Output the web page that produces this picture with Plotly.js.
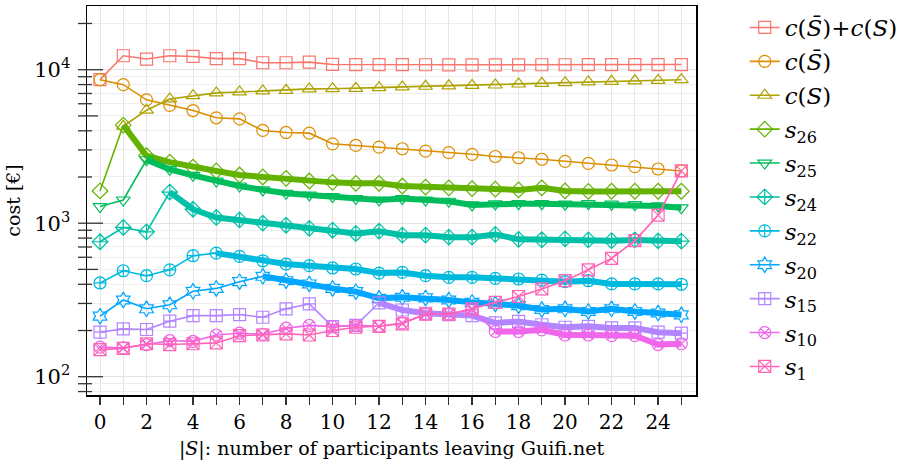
<!DOCTYPE html>
<html>
<head>
<meta charset="utf-8">
<script src="https://cdn.plot.ly/plotly-3.0.1.min.js"></script>
<style>html,body{margin:0;padding:0;background:#fff;}#chart{width:919px;height:465px;}</style>
</head>
<body>
<div id="chart"></div>
<script>
// ---- data ----
const leaving = [0,1,2,3,4,5,6,7,8,9,10,11,12,13,14,15,16,17,18,19,20,21,22,23,24,25];
const xTickText = ['0','','2','','4','','6','','8','','10','','12','','14','','16','','18','','20','','22','','24',''];

const cTotal = [8610,12330,11730,12330,12200,11800,11800,11100,11100,11200,10820,10790,10780,10780,10770,10760,10760,10760,10760,10770,10770,10780,10790,10790,10790,10800];
const cSbar  = [8610,7990,6360,5860,5420,4860,4785,4020,3900,3860,3290,3210,3130,3055,2950,2880,2810,2720,2670,2610,2530,2455,2395,2335,2255,2190];
const cS     = [null,4280,5450,6450,6780,7060,7160,7270,7340,7500,7520,7560,7640,7730,7800,7850,7900,7950,8070,8150,8230,8320,8400,8460,8520,8610];
const s26 = [1622,4350,2750,2500,2320,2190,2060,2000,1960,1883,1845,1820,1820,1747,1720,1700,1680,1665,1648,1700,1622,1610,1615,1615,1615,1615];
const s25 = [1283,1416,2590,2245,2050,1883,1747,1648,1565,1527,1490,1446,1416,1446,1416,1390,1315,1335,1340,1340,1330,1340,1330,1320,1295,1260];
const s24 = [757,938,879,1596,1233,1090,1050,1000,970,925,900,857,887,836,836,811,811,845,785,780,790,778,770,778,767,764];
const s22 = [408,490,455,497,614,638,608,569,542,529,511,503,473,478,455,444,444,437,433,426,416,422,402,402,402,400];
const s20 = [248,316,277,294,360,376,416,451,422,402,376,358,324,329,326,316,305,298,290,274,277,266,277,266,260,253];
const s15 = [195,205,203,230,250,250,254,244,277,298,212,216,303,272,259,254,250,224,229,218,210,213,208,208,195,192];
const s10 = [156,154,162,172,170,187,192,189,207,216,212,216,213,224,256,256,272,197,197,202,187,187,185,185,162,164];
const s1  = [150,153,164,162,164,166,185,187,190,187,200,210,213,221,256,256,277,305,333,373,422,497,590,770,1128,2190];

const seriesNames = [
  '<i>c</i>(<i>S̄</i>)+<i>c</i>(<i>S</i>)',
  '<i>c</i>(<i>S̄</i>)',
  '<i>c</i>(<i>S</i>)',
  '<i>s</i><sub>26</sub>','<i>s</i><sub>25</sub>','<i>s</i><sub>24</sub>','<i>s</i><sub>22</sub>',
  '<i>s</i><sub>20</sub>','<i>s</i><sub>15</sub>','<i>s</i><sub>10</sub>','<i>s</i><sub>1</sub>'
];
const seriesValues = [cTotal,cSbar,cS,s26,s25,s24,s22,s20,s15,s10,s1];
// index from which the line is drawn thick (-1: never)
const thickFrom = [-1,-1,-1,1,2,3,5,7,12,17,-1];

const colors = ['#F8766D','#DB8E00','#AEA200','#64B200','#00BD5C','#00C1A7','#00BADE','#00A6FF','#B385FF','#EF67EB','#FF63B6'];
const symbols = ['square-open','circle-open','triangle-up-open','diamond-open','triangle-down-open','diamond-cross-open','circle-cross-open','hexagram-open','square-cross-open','circle-x-open','square-x-open'];

const traces = [];
for (let k = 0; k < seriesValues.length; k++) {
  const vals = seriesValues[k];
  if (thickFrom[k] >= 0) {
    traces.push({
      x: leaving.slice(thickFrom[k]), y: vals.slice(thickFrom[k]),
      type: 'scatter', mode: 'lines', line: {color: colors[k], width: 6},
      showlegend: false, legendgroup: 'g' + k, hoverinfo: 'skip'
    });
  }
  traces.push({
    x: leaving, y: vals, name: seriesNames[k], legendgroup: 'g' + k,
    type: 'scatter', mode: 'lines+markers',
    line: {color: colors[k], width: 1.6},
    marker: {symbol: symbols[k], size: 12, color: colors[k], line: {width: 1.2, color: colors[k]}}
  });
}

// y axis log ticks (annotation_logticks style)
const shapes = [];
const minorVals = [];
for (let d = 1; d <= 4; d++) {
  for (let m = 1; m <= 9; m++) {
    const v = m * Math.pow(10, d);
    if (v < 76 || v > 26000) continue;
    if (m !== 1) minorVals.push(v);
    const len = m === 1 ? 16 : (m === 5 ? 11 : 5);
    shapes.push({type: 'line', xref: 'paper', yref: 'y', xsizemode: 'pixel', xanchor: 0,
      x0: -9, x1: len, y0: v, y1: v, line: {color: '#333', width: 1.3}});
  }
}

const FAM = 'DejaVu Serif';
function f(size) { return {family: FAM, size: size, color: '#000'}; }

const layout = {
  width: 919, height: 465,
  margin: {l: 87, r: 223, t: 6, b: 70},
  paper_bgcolor: '#fff', plot_bgcolor: '#fff',
  font: f(20),
  showlegend: true,
  legend: {x: 1.08, xanchor: 'left', y: 1.0, yanchor: 'top', font: f(23),
           tracegroupgap: 1, bgcolor: 'rgba(0,0,0,0)'},
  xaxis: {
    range: [-0.56, 25.63], tickmode: 'array', tickvals: leaving, ticktext: xTickText,
    ticks: 'outside', ticklen: 8, tickwidth: 1.3, tickcolor: '#333',
    showgrid: true, gridcolor: '#e6e6e6', gridwidth: 1, zeroline: false,
    showline: true, mirror: true, linecolor: '#000', linewidth: 1.5,
    tickfont: f(20),
    title: {text: '|<i>S</i>|: number of participants leaving Guifi.net', font: f(19), standoff: 9}
  },
  yaxis: {
    type: 'log', range: [Math.log10(76), Math.log10(26000)],
    tickmode: 'array', tickvals: [100, 1000, 10000], ticktext: ['10<sup>2</sup>', '10<sup>3</sup>', '10<sup>4</sup>'],
    ticks: 'outside', ticklen: 11, tickcolor: 'rgba(0,0,0,0)',
    showgrid: true, gridcolor: '#e3e3e3', gridwidth: 1, zeroline: false,
    minor: {tickvals: minorVals, showgrid: true, gridcolor: '#eeeeee', gridwidth: 1, ticks: ''},
    showline: true, mirror: true, linecolor: '#000', linewidth: 1.5,
    tickfont: f(21),
    title: {text: 'cost [€]', font: f(19), standoff: 8}
  },
  shapes: shapes
};

Plotly.newPlot('chart', traces, layout, {displayModeBar: false, staticPlot: true});
</script>
</body>
</html>
